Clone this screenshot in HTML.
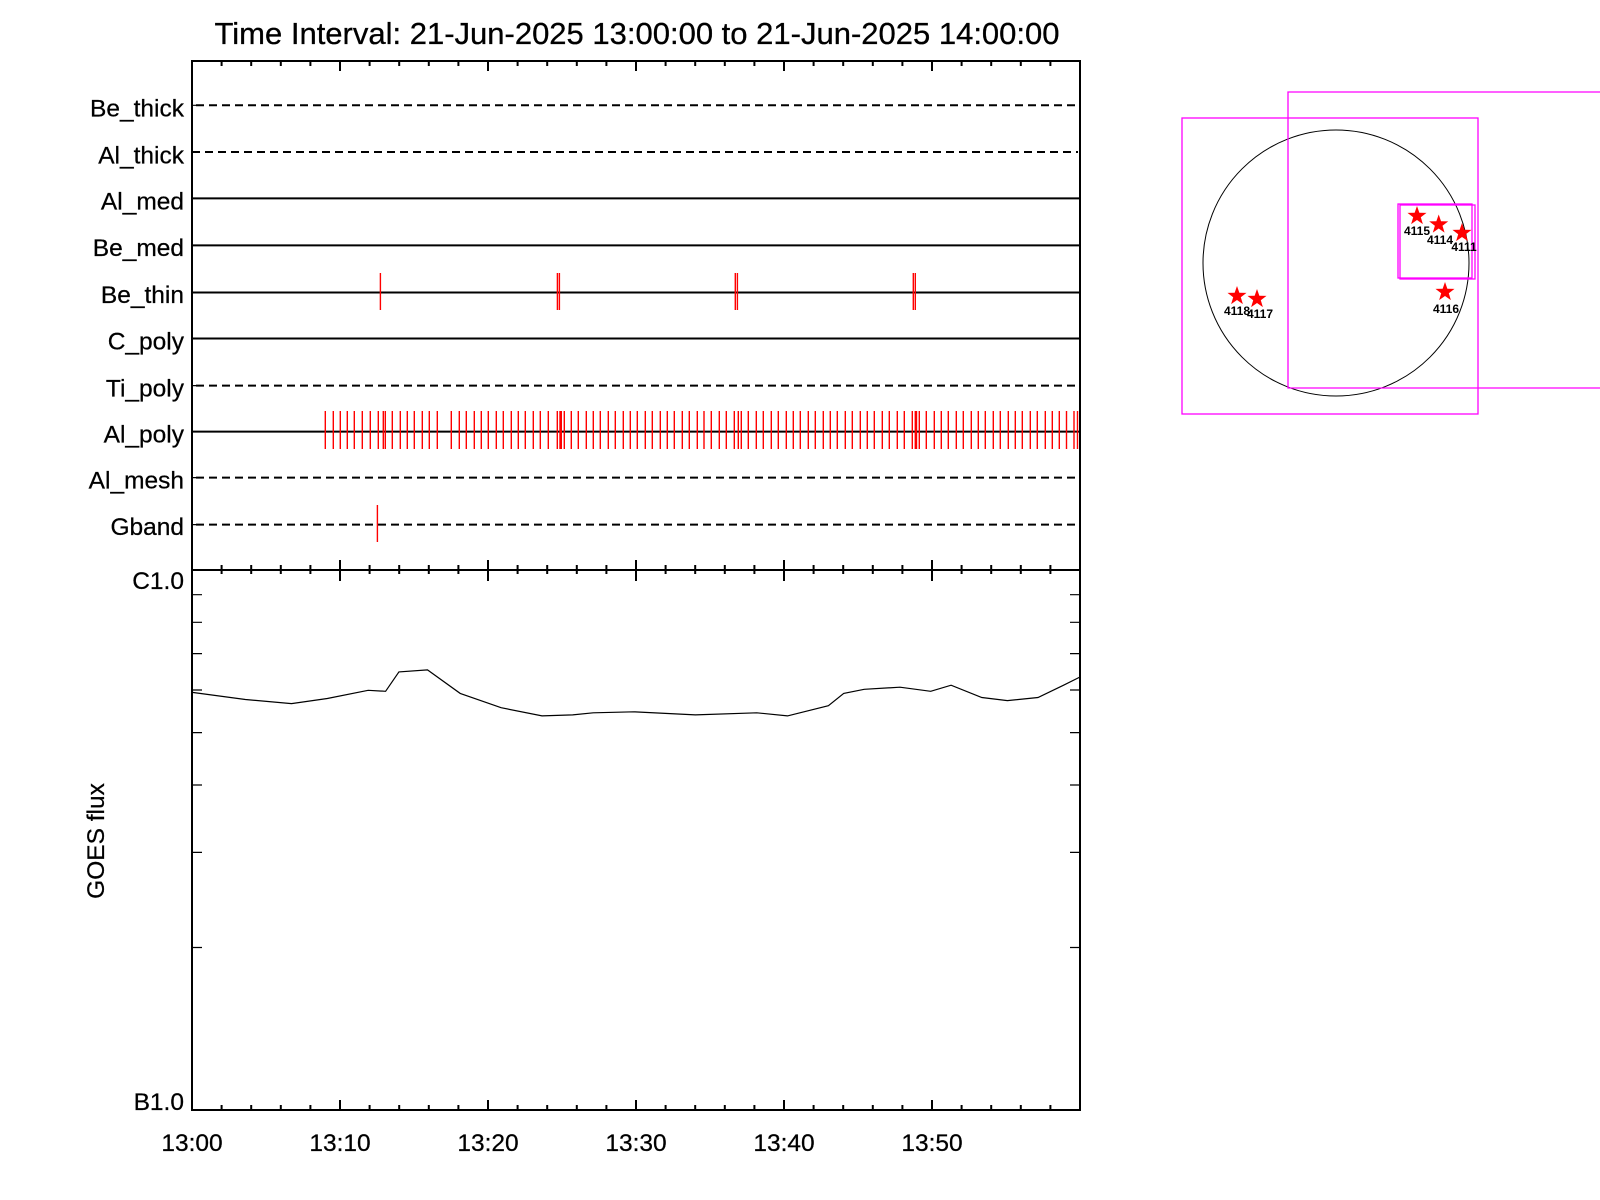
<!DOCTYPE html>
<html><head><meta charset="utf-8"><style>
html,body{margin:0;padding:0;background:#fff;}
svg{display:block;font-family:"Liberation Sans",sans-serif;}
</style></head><body>
<svg width="1600" height="1200" viewBox="0 0 1600 1200" xmlns="http://www.w3.org/2000/svg">
<text x="637" y="44" font-size="31" text-anchor="middle" stroke="#000" stroke-width="0.3">Time Interval: 21-Jun-2025 13:00:00 to 21-Jun-2025 14:00:00</text>
<g stroke="#000" stroke-width="2" fill="none">
<rect x="192" y="61" width="888" height="1049"/>
<line x1="192" y1="570" x2="1080" y2="570"/>
<g stroke-dasharray="8,5">
<line x1="196" y1="105.3" x2="1078" y2="105.3"/>
<line x1="192" y1="152" x2="1078" y2="152"/>
<line x1="196" y1="385.6" x2="1078" y2="385.6"/>
<line x1="196" y1="477.6" x2="1078" y2="477.6"/>
<line x1="196" y1="524.6" x2="1078" y2="524.6"/>
</g>
<line x1="192" y1="198.4" x2="1080" y2="198.4"/>
<line x1="192" y1="245.4" x2="1080" y2="245.4"/>
<line x1="192" y1="292.5" x2="1080" y2="292.5"/>
<line x1="192" y1="338.5" x2="1080" y2="338.5"/>
<line x1="192" y1="431.6" x2="1080" y2="431.6"/>
<path d="M340 61v10M488 61v10M636 61v10M784 61v10M932 61v10M221.6 61v5M251.2 61v5M280.8 61v5M310.4 61v5M369.6 61v5M399.2 61v5M428.8 61v5M458.4 61v5M517.6 61v5M547.2 61v5M576.8 61v5M606.4 61v5M665.6 61v5M695.2 61v5M724.8 61v5M754.4 61v5M813.6 61v5M843.2 61v5M872.8 61v5M902.4 61v5M961.6 61v5M991.2 61v5M1020.8 61v5M1050.4 61v5"/>
<path d="M192 560v21M340 560v21M488 560v21M636 560v21M784 560v21M932 560v21M221.6 565v9M251.2 565v9M280.8 565v9M310.4 565v9M369.6 565v9M399.2 565v9M428.8 565v9M458.4 565v9M517.6 565v9M547.2 565v9M576.8 565v9M606.4 565v9M665.6 565v9M695.2 565v9M724.8 565v9M754.4 565v9M813.6 565v9M843.2 565v9M872.8 565v9M902.4 565v9M961.6 565v9M991.2 565v9M1020.8 565v9M1050.4 565v9"/>
<path d="M340 1110v-10M488 1110v-10M636 1110v-10M784 1110v-10M932 1110v-10M221.6 1110v-5M251.2 1110v-5M280.8 1110v-5M310.4 1110v-5M369.6 1110v-5M399.2 1110v-5M428.8 1110v-5M458.4 1110v-5M517.6 1110v-5M547.2 1110v-5M576.8 1110v-5M606.4 1110v-5M665.6 1110v-5M695.2 1110v-5M724.8 1110v-5M754.4 1110v-5M813.6 1110v-5M843.2 1110v-5M872.8 1110v-5M902.4 1110v-5M961.6 1110v-5M991.2 1110v-5M1020.8 1110v-5M1050.4 1110v-5"/>
</g>
<path stroke="#000" stroke-width="1.2" fill="none" d="M192 594.7h10M192 622.3h10M192 653.6h10M192 690h10M192 732.6h10M192 785h10M192 852.4h10M192 947.5h10M1080 594.7h-10M1080 622.3h-10M1080 653.6h-10M1080 690h-10M1080 732.6h-10M1080 785h-10M1080 852.4h-10M1080 947.5h-10"/>
<path stroke="#000" stroke-width="1.2" d="M192 105.3h5M192 152h5M192 198.4h5M192 245.4h5M192 292.5h5M192 338.5h5M192 385.6h5M192 431.6h5M192 477.6h5M192 524.6h5"/>
<g font-size="24.5" text-anchor="end" stroke="#000" stroke-width="0.25">
<text x="184" y="116.5">Be_thick</text>
<text x="184" y="163.5">Al_thick</text>
<text x="184" y="209.5">Al_med</text>
<text x="184" y="256">Be_med</text>
<text x="184" y="303">Be_thin</text>
<text x="184" y="349.5">C_poly</text>
<text x="184" y="396.5">Ti_poly</text>
<text x="184" y="442.5">Al_poly</text>
<text x="184" y="488.5">Al_mesh</text>
<text x="184" y="535">Gband</text>
</g>
<path stroke="#f00" stroke-width="1.4" fill="none" d="M380.4 273v37M557.4 273v37M559.4 273v37M735.3 273v37M737.4 273v37M913.3 273v37M915.3 273v37M377.4 505v37
M325.3 411v38M333.3 411v38M340.3 411v38M347.3 411v38M354.3 411v38M362.3 411v38M370.3 411v38M378.3 411v38M383.3 411v38M385.3 411v38M392.3 411v38M400.3 411v38M407.3 411v38M414.3 411v38M422.3 411v38M429.3 411v38M437.3 411v38M451.3 411v38M459.3 411v38M466.3 411v38M474.3 411v38M481.3 411v38M488.3 411v38M496.3 411v38M503.3 411v38M511.3 411v38M518.3 411v38M525.3 411v38M533.3 411v38M540.3 411v38M548.3 411v38M557.3 411v38M560 411v38M561.3 411v38M564.3 411v38M571.3 411v38M578.3 411v38M586.3 411v38M593.3 411v38M600.3 411v38M608.3 411v38M615.3 411v38M623.3 411v38M630.3 411v38M637.3 411v38M645.3 411v38M652.3 411v38M660.3 411v38M667.3 411v38M674.3 411v38M682.3 411v38M689.3 411v38M697.3 411v38M704 411v38M711.3 411v38M719.3 411v38M726.3 411v38M734.3 411v38M738.3 411v38M741.3 411v38M748.3 411v38M756.3 411v38M763.3 411v38M771.3 411v38M778.3 411v38M786.3 411v38M793.3 411v38M800.3 411v38M808.3 411v38M815.3 411v38M823.3 411v38M830.3 411v38M837.3 411v38M845.3 411v38M852.3 411v38M860.3 411v38M867.3 411v38M874.3 411v38M882.3 411v38M889.3 411v38M897.3 411v38M904.3 411v38M912.3 411v38M915.3 411v38M916.5 411v38M919.3 411v38M926.3 411v38M934.3 411v38M941.3 411v38M948.3 411v38M956.3 411v38M963.3 411v38M971.3 411v38M978.3 411v38M985.3 411v38M993.3 411v38M1000.3 411v38M1008.3 411v38M1015.3 411v38M1022.3 411v38M1030.3 411v38M1037.3 411v38M1045.3 411v38M1052.3 411v38M1059.3 411v38M1066.5 411v38M1074 411v38M1077.5 411v38"/>
<polyline fill="none" stroke="#000" stroke-width="1.2" points="192.3,692.4 245.4,699.5 291.5,703.6 327.3,698.5 368.2,690.3 385.6,691.3 398.9,671.9 427.5,669.9 460.2,693.4 501.1,707.7 542,715.9 572.7,714.9 593.2,712.8 634.1,711.8 695.4,714.9 756.8,712.8 787.5,715.9 828.4,705.7 843.7,693.4 864.2,689.3 900,687.2 930.7,691.3 951.1,685.2 981.8,697.5 1007.4,700.6 1038,697.5 1063.6,685.2 1080,677"/>
<g font-size="24.5" stroke="#000" stroke-width="0.25">
<text x="184" y="589" text-anchor="end">C1.0</text>
<text x="184" y="1110" text-anchor="end">B1.0</text>
<text transform="translate(104,841) rotate(-90)" text-anchor="middle">GOES flux</text>
<g text-anchor="middle">
<text x="192" y="1151">13:00</text>
<text x="340" y="1151">13:10</text>
<text x="488" y="1151">13:20</text>
<text x="636" y="1151">13:30</text>
<text x="784" y="1151">13:40</text>
<text x="932" y="1151">13:50</text>
</g>
</g>
<circle cx="1336" cy="263" r="133" fill="none" stroke="#000" stroke-width="1"/>
<g fill="none" stroke="#f0f" stroke-width="1.3">
<rect x="1182" y="118" width="296" height="296"/>
<path d="M1600 92H1288V388H1600"/>
<rect x="1398" y="204" width="74" height="74"/>
<rect x="1400" y="205" width="75" height="74"/>
</g>
<g fill="#f00">
<polygon transform="translate(1417,216)" points="0,-10 2.35,-3.24 9.51,-3.09 3.8,1.24 5.88,8.09 0,4 -5.88,8.09 -3.8,1.24 -9.51,-3.09 -2.35,-3.24"/>
<polygon transform="translate(1438.7,224.5)" points="0,-10 2.35,-3.24 9.51,-3.09 3.8,1.24 5.88,8.09 0,4 -5.88,8.09 -3.8,1.24 -9.51,-3.09 -2.35,-3.24"/>
<polygon transform="translate(1462,233)" points="0,-10 2.35,-3.24 9.51,-3.09 3.8,1.24 5.88,8.09 0,4 -5.88,8.09 -3.8,1.24 -9.51,-3.09 -2.35,-3.24"/>
<polygon transform="translate(1445,292)" points="0,-10 2.35,-3.24 9.51,-3.09 3.8,1.24 5.88,8.09 0,4 -5.88,8.09 -3.8,1.24 -9.51,-3.09 -2.35,-3.24"/>
<polygon transform="translate(1237,296)" points="0,-10 2.35,-3.24 9.51,-3.09 3.8,1.24 5.88,8.09 0,4 -5.88,8.09 -3.8,1.24 -9.51,-3.09 -2.35,-3.24"/>
<polygon transform="translate(1257,299)" points="0,-10 2.35,-3.24 9.51,-3.09 3.8,1.24 5.88,8.09 0,4 -5.88,8.09 -3.8,1.24 -9.51,-3.09 -2.35,-3.24"/>
</g>
<g font-size="12" font-weight="bold" text-anchor="middle">
<text x="1417" y="235">4115</text>
<text x="1440" y="244">4114</text>
<text x="1464" y="251">4111</text>
<text x="1446" y="313">4116</text>
<text x="1237" y="315">4118</text>
<text x="1260" y="318">4117</text>
</g>
</svg>
</body></html>
